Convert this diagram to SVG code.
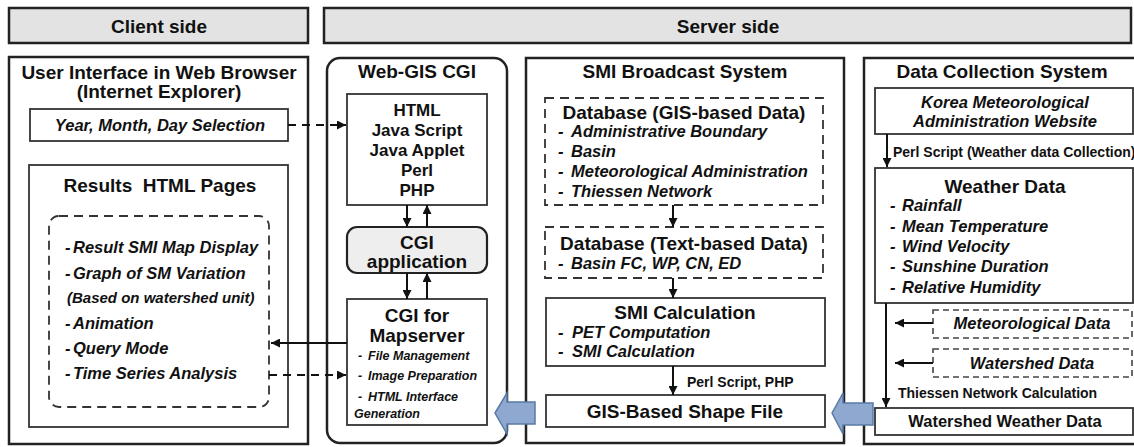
<svg xmlns="http://www.w3.org/2000/svg" width="1134" height="447" viewBox="0 0 1134 447">
<defs>
<style>
text{font-family:"Liberation Sans",Arial,sans-serif;font-weight:bold;fill:#111;dominant-baseline:central}
.c{text-anchor:middle}
.h{font-size:19px}
.t{font-size:19px}
.i{font-size:16.5px;font-style:italic}
.l{font-size:17px}
.s{font-size:14px}
.m{font-size:12.5px;font-style:italic}
.hdr{fill:#e3e3e3;stroke:#222;stroke-width:2.5}
.outer{fill:#fff;stroke:#222;stroke-width:2.5}
.box{fill:#fff;stroke:#333;stroke-width:1.8}
.dash{fill:#fff;stroke:#333;stroke-width:1.8;stroke-dasharray:9 6}
.dash2{fill:#fff;stroke:#444;stroke-width:1.6;stroke-dasharray:6 4}
.ln{fill:none;stroke:#111;stroke-width:2}
.dl{fill:none;stroke:#111;stroke-width:2;stroke-dasharray:8 6}
.blue{fill:#8ea8cf;stroke:#5a7aa6;stroke-width:1.5}
</style>
<marker id="ah" viewBox="0 0 10 10" refX="10" refY="5" markerWidth="9" markerHeight="9" markerUnits="userSpaceOnUse" orient="auto">
<path d="M0,0 L10,5 L0,10 z" fill="#111"/>
</marker>
</defs>

<g id="client-header">
<rect class="hdr" x="9" y="8" width="299" height="35"/>
<text class="h c" x="159" y="26">Client side</text>
</g>
<g id="server-header">
<rect class="hdr" x="324" y="8" width="807" height="35"/>
<text class="h c" x="728" y="26">Server side</text>
</g>

<g id="user-interface">
<rect class="outer" x="9" y="57" width="299" height="387"/>
<text class="t c" x="159" y="72">User Interface in Web Browser</text>
<text class="t c" x="159" y="91">(Internet Explorer)</text>
</g>
<g id="ymd-selection">
<rect class="box" x="30" y="109" width="258" height="32"/>
<text class="i c" x="160" y="125">Year, Month, Day Selection</text>
</g>
<g id="results-pages">
<rect class="box" x="29" y="165" width="259" height="262"/>
<text class="t c" x="160" y="185" style="white-space:pre">Results  HTML Pages</text>
<rect class="dash" x="49" y="216" width="220" height="191" rx="10"/>
<text class="i" x="65" y="247">-</text><text class="i" x="73" y="247">Result SMI Map Display</text>
<text class="i" x="65" y="273">-</text><text class="i" x="73" y="273">Graph of SM Variation</text>
<text class="i" x="67" y="297" style="font-size:15px">(Based on watershed unit)</text>
<text class="i" x="65" y="323">-</text><text class="i" x="73" y="323">Animation</text>
<text class="i" x="65" y="348">-</text><text class="i" x="73" y="348">Query Mode</text>
<text class="i" x="65" y="373">-</text><text class="i" x="73" y="373">Time Series Analysis</text>
</g>

<g id="web-gis-cgi">
<rect class="outer" x="327" y="58" width="180" height="385" rx="13"/>
<text class="t c" x="417" y="71">Web-GIS CGI</text>
</g>
<g id="html-box">
<rect class="box" x="347" y="94" width="140" height="111"/>
<text class="l c" x="417" y="110">HTML</text>
<text class="l c" x="417" y="130">Java Script</text>
<text class="l c" x="417" y="150">Java Applet</text>
<text class="l c" x="417" y="170">Perl</text>
<text class="l c" x="417" y="190">PHP</text>
</g>
<g id="cgi-application">
<rect x="347" y="227" width="140" height="46" rx="10" fill="#eeeeee" stroke="#222" stroke-width="2.2"/>
<text class="t c" x="417" y="242">CGI</text>
<text class="t c" x="417" y="261">application</text>
</g>
<g id="cgi-mapserver">
<rect class="box" x="347" y="299" width="140" height="126"/>
<text class="t c" x="417" y="315">CGI for</text>
<text class="t c" x="417" y="335">Mapserver</text>
<text class="m" x="358" y="356">-</text><text class="m" x="368" y="356">File Management</text>
<text class="m" x="358" y="376">-</text><text class="m" x="368" y="376">Image Preparation</text>
<text class="m" x="358" y="397">-</text><text class="m" x="368" y="397">HTML Interface</text>
<text class="m" x="354" y="414">Generation</text>
</g>

<g id="smi-broadcast">
<rect class="outer" x="526" y="58" width="318" height="385"/>
<text class="t c" x="685" y="71">SMI Broadcast System</text>
</g>
<g id="db-gis">
<rect class="dash" x="545" y="98" width="278" height="107"/>
<text class="t c" x="684" y="112">Database (GIS-based Data)</text>
<text class="i" x="558" y="131">-</text><text class="i" x="571" y="131">Administrative Boundary</text>
<text class="i" x="558" y="151">-</text><text class="i" x="571" y="151">Basin</text>
<text class="i" x="558" y="171">-</text><text class="i" x="571" y="171">Meteorological Administration</text>
<text class="i" x="558" y="191">-</text><text class="i" x="571" y="191">Thiessen Network</text>
</g>
<g id="db-text">
<rect class="dash" x="545" y="227" width="278" height="51"/>
<text class="t c" x="684" y="243">Database (Text-based Data)</text>
<text class="i" x="558" y="263">-</text><text class="i" x="571" y="263">Basin FC, WP, CN, ED</text>
</g>
<g id="smi-calc">
<rect class="box" x="546" y="298" width="279" height="68"/>
<text class="t c" x="685" y="312">SMI Calculation</text>
<text class="i" x="558" y="332">-</text><text class="i" x="572" y="332">PET Computation</text>
<text class="i" x="558" y="351">-</text><text class="i" x="572" y="351">SMI Calculation</text>
</g>
<g id="gis-shape">
<rect class="box" x="546" y="395" width="279" height="32"/>
<text class="h c" x="685" y="411">GIS-Based Shape File</text>
</g>

<g id="data-collection">
<rect class="outer" x="864" y="58" width="280" height="386"/>
<text class="t c" x="1002" y="71">Data Collection System</text>
</g>
<g id="kma">
<rect class="box" x="875" y="88" width="258" height="46"/>
<text class="i c" x="1005" y="102">Korea Meteorological</text>
<text class="i c" x="1005" y="121">Administration Website</text>
</g>
<g id="weather-data">
<rect class="box" x="875" y="168" width="258" height="135"/>
<text class="t c" x="1005" y="186">Weather Data</text>
<text class="i" x="890" y="205">-</text><text class="i" x="902" y="205">Rainfall</text>
<text class="i" x="890" y="226">-</text><text class="i" x="902" y="226">Mean Temperature</text>
<text class="i" x="890" y="246">-</text><text class="i" x="902" y="246">Wind Velocity</text>
<text class="i" x="890" y="266">-</text><text class="i" x="902" y="266">Sunshine Duration</text>
<text class="i" x="890" y="287">-</text><text class="i" x="902" y="287">Relative Humidity</text>
</g>
<g id="met-data">
<rect class="dash2" x="933" y="310" width="199" height="28"/>
<text class="i c" x="1032" y="323">Meteorological Data</text>
</g>
<g id="watershed-data">
<rect class="dash2" x="933" y="349" width="199" height="28"/>
<text class="i c" x="1032" y="363">Watershed Data</text>
</g>
<g id="watershed-weather">
<rect class="box" x="875" y="408" width="258" height="27"/>
<text class="i c" x="1005" y="421" style="font-style:normal">Watershed Weather Data</text>
</g>

<g id="connectors">
<line class="dl" x1="288" y1="125" x2="346" y2="125" marker-end="url(#ah)"/>
<line class="ln" x1="347" y1="343" x2="271" y2="343" marker-end="url(#ah)"/>
<line class="dl" x1="269" y1="375" x2="346" y2="375" marker-end="url(#ah)"/>
<line class="ln" x1="407" y1="205" x2="407" y2="227" marker-end="url(#ah)"/>
<line class="ln" x1="427" y1="227" x2="427" y2="205" marker-end="url(#ah)"/>
<line class="ln" x1="407" y1="273" x2="407" y2="299" marker-end="url(#ah)"/>
<line class="ln" x1="427" y1="299" x2="427" y2="273" marker-end="url(#ah)"/>
<line class="ln" x1="673" y1="205" x2="673" y2="227" marker-end="url(#ah)"/>
<line class="ln" x1="673" y1="278" x2="673" y2="298" marker-end="url(#ah)"/>
<line class="ln" x1="673" y1="366" x2="673" y2="395" marker-end="url(#ah)"/>
<text class="s" x="687" y="382">Perl Script, PHP</text>
<line class="ln" x1="887" y1="134" x2="887" y2="167" marker-end="url(#ah)"/>
<text class="s" x="893" y="152">Perl Script (Weather data Collection)</text>
<line class="ln" x1="886" y1="303" x2="886" y2="407" marker-end="url(#ah)"/>
<line class="ln" x1="933" y1="323" x2="895" y2="323" marker-end="url(#ah)"/>
<line class="ln" x1="933" y1="363" x2="895" y2="363" marker-end="url(#ah)"/>
<text class="s" x="898" y="393">Thiessen Network Calculation</text>
<polygon class="blue" points="495,413 507,393 507,402 535,402 535,424 507,424 507,434"/>
<polygon class="blue" points="832,413 843,393 843,403 873,403 873,425 843,425 843,434"/>
</g>
</svg>
